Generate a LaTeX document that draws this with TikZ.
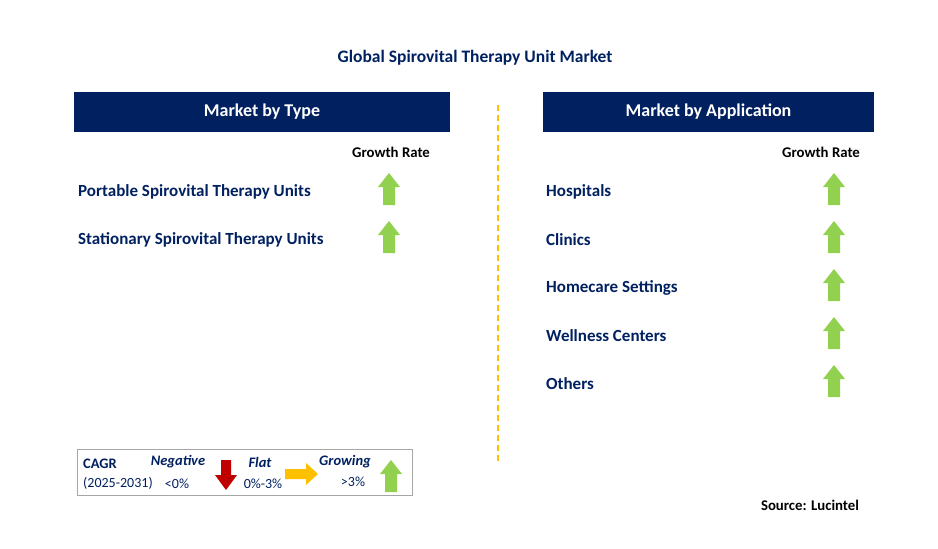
\documentclass[tikz,border=0pt]{standalone}
\usepackage{fontspec}
\setmainfont{Carlito}
\definecolor{navy}{HTML}{002060}
\definecolor{gup}{HTML}{92D050}
\definecolor{dred}{HTML}{C00000}
\definecolor{amber}{HTML}{FFC000}
\tikzset{
 hdr/.style={fill=navy,text=white,font=\bfseries\fontsize{18}{20}\selectfont,minimum height=40pt,inner sep=0pt},
 item/.style={anchor=west,text=navy,font=\bfseries\fontsize{17}{19}\selectfont,inner sep=0pt},
 gr/.style={font=\bfseries\fontsize{14.8}{16}\selectfont,inner sep=0pt},
 lg/.style={text=navy,font=\fontsize{14}{16}\selectfont,inner sep=0pt},
 lgi/.style={text=navy,font=\bfseries\itshape\fontsize{14.5}{16}\selectfont,inner sep=0pt}
}
\newcommand{\uparr}[2]{\fill[gup] (#1-6,#2+16)--(#1-6,#2-2)--(#1-11,#2-2)--(#1,#2-16)--(#1+11,#2-2)--(#1+6,#2-2)--(#1+6,#2+16)--cycle;}
\begin{document}
\begin{tikzpicture}[x=1pt,y=-1pt]
\useasboundingbox (0,0) rectangle (938,549);
\node[text=navy,font=\bfseries\fontsize{17.5}{19}\selectfont] (title) at (475,58) {Global Spirovital Therapy Unit Market};
\node[hdr,minimum width=376pt] (h1) at (262,112) {Market by Type};
\node[hdr,minimum width=331pt] (h2) at (708.5,112) {Market by Application};
\node[gr] (g1) at (391,152) {Growth Rate};
\node[gr] (g2) at (821,152) {Growth Rate};
\node[item] (l1) at (78,191.5) {Portable Spirovital Therapy Units};
\node[item] (l2) at (78,239.5) {Stationary Spirovital Therapy Units};
\uparr{389}{189}\uparr{389}{237}
\foreach \t [count=\i] in {Hospitals,Clinics,Homecare Settings,Wellness Centers,Others}{
  \node[item] (r\i) at (546,191.5+48*\i-48) {\t};
  \uparr{834}{189+48*\i-48}
}
\coordinate (d1) at (498,105); \coordinate (d2) at (498,462);
\draw[amber,line width=1.2pt,dash pattern=on 6pt off 4pt] (d1)--(d2);
\draw[gray!70,line width=0.8pt] (77,449) rectangle (412,495);
\node[lg,font=\bfseries\fontsize{14.5}{16}\selectfont,anchor=west] (c1) at (83,464) {CAGR};
\node[lg,anchor=west] (c2) at (83,483) {(2025-2031)};
\node[lgi] (n1) at (178,462) {Negative};
\node[lg] (n2) at (177,484) {<0\%};
\fill[dred] (221,460)--(231,460)--(231,475)--(237,475)--(226,490)--(215,475)--(221,475)--cycle;
\node[lgi] (f1) at (260,462) {Flat};
\node[lg] (f2) at (263,484) {0\%-3\%};
\fill[amber] (285,469)--(306,469)--(306,463)--(318,474)--(306,485)--(306,479)--(285,479)--cycle;
\node[lgi] (w1) at (345,462) {Growing};
\node[lg] (w2) at (353,482) {>3\%};
\uparr{391}{476}
\node[font=\bfseries\fontsize{14.8}{16}\selectfont,inner sep=0pt] (src) at (810,505) {Source: Lucintel};
\end{tikzpicture}
\end{document}
